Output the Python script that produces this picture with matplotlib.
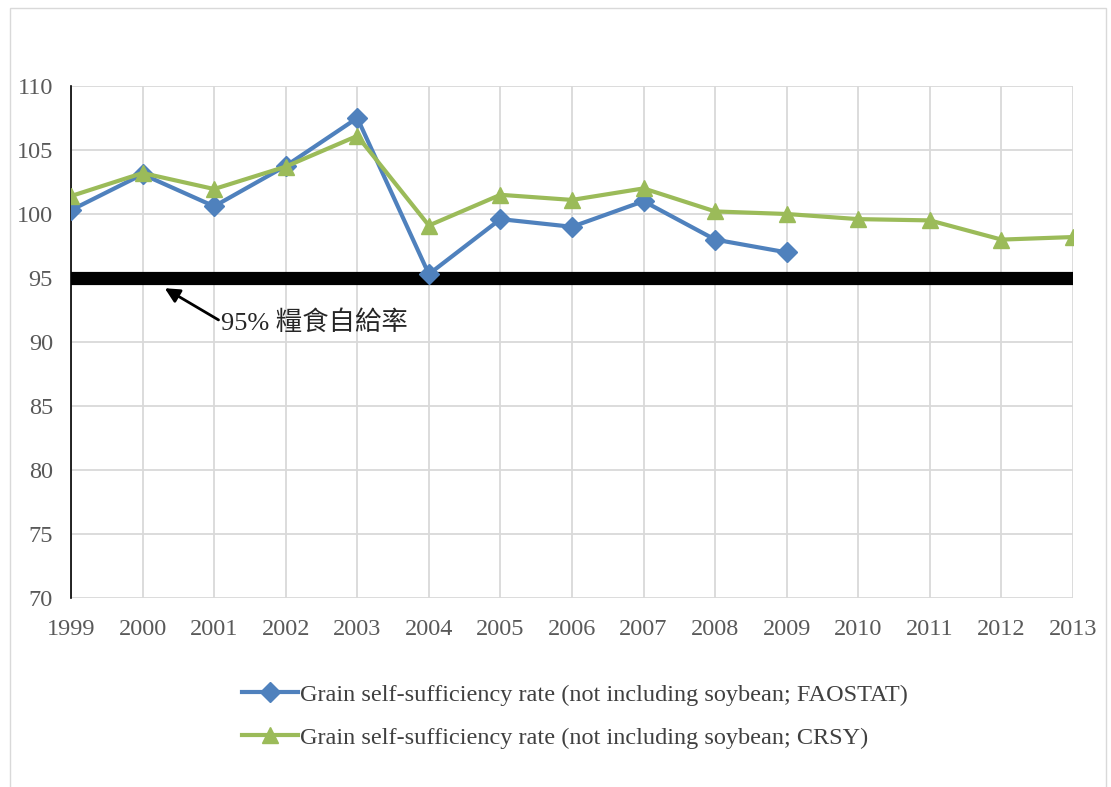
import matplotlib
matplotlib.use("Agg")
import matplotlib.pyplot as plt
from matplotlib.patches import Rectangle

# data
years = ["1999", "2000", "2001", "2002", "2003", "2004", "2005", "2006",
         "2007", "2008", "2009", "2010", "2011", "2012", "2013"]
faostat = [100.3, 103.1, 100.6, 103.75, 107.5, 95.3, 99.6, 99.0, 101.0, 98.0, 97.0]
crsy = [101.4, 103.2, 101.95, 103.7, 106.1, 99.1, 101.5, 101.1, 102.0,
        100.2, 100.0, 99.6, 99.5, 98.0, 98.2]
target = 95
y_ticks = [70, 75, 80, 85, 90, 95, 100, 105, 110]
label_fao = "Grain self-sufficiency rate (not including soybean; FAOSTAT)"
label_crsy = "Grain self-sufficiency rate (not including soybean; CRSY)"
note = "95% 糧食自給率"

plt.rcParams["font.family"] = ["Liberation Serif", "Noto Sans CJK TC"]

fig = plt.figure(figsize=(11.11, 7.87), dpi=100)
ax = fig.add_axes([71 / 1111, 1 - 598 / 787, (1073 - 71) / 1111, (598 - 86) / 787])

# outer chart border
fig.patches.append(Rectangle((10 / 1111, -0.05), 1096 / 1111, 1 - 8 / 787 + 0.05,
                             transform=fig.transFigure, fill=False,
                             edgecolor="#d9d9d9", linewidth=1))

x = list(range(len(years)))
ax.plot(x[:len(faostat)], faostat, color="#4f81bd", lw=3, marker="D", ms=10,
        label=label_fao, zorder=4)
ax.plot(x, crsy, color="#9bbb59", lw=3, marker="^", ms=12,
        label=label_crsy, zorder=4)
ax.axhline(target, color="black", lw=9.5, zorder=3)

ax.set_xlim(0, len(years) - 1)
ax.set_ylim(70, 110)
ax.set_xticks(x)
ax.set_xticklabels(years)
ax.set_yticks(y_ticks)
ax.grid(True, color="#d9d9d9", lw=1.3)
ax.set_axisbelow(True)
for s in ["top", "right", "bottom"]:
    ax.spines[s].set_visible(False)
ax.spines["left"].set_color("black")
ax.spines["left"].set_linewidth(1.2)
ax.tick_params(length=0, labelsize=17.5, colors="#595959")
ax.tick_params(axis="x", pad=15)
ax.tick_params(axis="y", pad=13)

ax.annotate(note, xy=(1.31, 94.2), xytext=(2.1, 91.5), fontsize=19, color="#262626",
            va="center", ha="left",
            arrowprops=dict(arrowstyle="-|>", color="black", lw=2, mutation_scale=22,
                            shrinkA=0, shrinkB=0, relpos=(0, 0.55)))

fig.legend(loc="upper center", bbox_to_anchor=(575 / 1111, 1 - 662 / 787), frameon=False,
           fontsize=17.5, labelcolor="#404040", handlelength=2.3, handletextpad=0.1,
           labelspacing=0.85)

fig.savefig("out.png", dpi=100)
